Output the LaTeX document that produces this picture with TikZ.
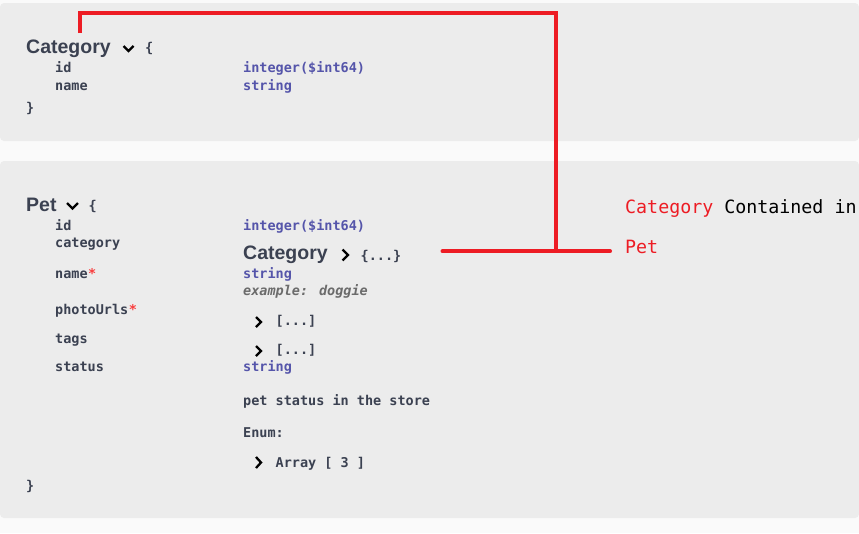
\documentclass[tikz,border=0pt]{standalone}
\usepackage{fontspec}
\setmainfont{Liberation Sans}
\setmonofont{DejaVu Sans Mono}
\newfontfamily\notefont{DejaVu Sans Mono}
\usepackage{xcolor}
\definecolor{canvasbg}{RGB}{250,250,250}
\definecolor{panelbg}{RGB}{236,236,236}
\definecolor{swgtext}{RGB}{59,65,81}
\definecolor{swgtype}{RGB}{85,85,170}
\definecolor{swgexample}{RGB}{107,107,107}
\definecolor{swgreq}{RGB}{249,62,62}
\definecolor{notered}{RGB}{237,28,36}
\usetikzlibrary{positioning,calc}
\tikzset{
  mtitle/.style={anchor=base west,inner sep=0pt,text=swgtext,
    font=\fontsize{19.5}{21}\selectfont\bfseries},
  prop/.style={anchor=base west,inner sep=0pt,text=swgtext,
    font=\fontsize{13.5}{15}\selectfont\ttfamily\bfseries},
  ptype/.style={prop,text=swgtype},
  pexample/.style={prop,text=swgexample,
    font=\fontsize{13.5}{15}\selectfont\ttfamily\bfseries\itshape},
  preq/.style={prop,text=swgreq},
  chev/.style={line width=2.3pt,draw=black,line join=miter},
  note/.style={anchor=base west,inner sep=0pt,text=black,
    font=\fontsize{18.3}{20}\selectfont\notefont},
  redln/.style={line width=4pt,draw=notered,line join=miter},
}
\begin{document}
\begin{tikzpicture}[x=1pt,y=-1pt]
  \useasboundingbox (0,0) rectangle (859,533);
  \fill[canvasbg] (0,0) rectangle (859,533);
  \fill[panelbg,rounded corners=4pt] (0,3) rectangle (859,141);
  \fill[panelbg,rounded corners=4pt] (0,161) rectangle (859,518);

  % Category model
  \node (cattitle) [mtitle] at (26,53.3) {Category};
  \draw[chev] (123.5,46) -- (128.5,51) -- (133.5,46);
  \node (catopen) [prop] at (145,52.3) {\{};
  \node (catid) [prop] at (55,72.5) {id};
  \node (catidt) [ptype] at (243,72.5) {integer(\$int64)};
  \node (catname) [prop] at (55,90.5) {name};
  \node (catnamet) [ptype] at (243,90.5) {string};
  \node (catclose) [prop] at (26,112) {\}};

  % Pet model
  \node (pettitle) [mtitle] at (26,211) {Pet};
  \draw[chev] (67,203) -- (72.5,208.5) -- (78,203);
  \node (petopen) [prop] at (88.5,210) {\{};
  \node (petid) [prop] at (55,230) {id};
  \node (petidt) [ptype] at (243,230) {integer(\$int64)};
  \node (petcat) [prop] at (55,247.5) {category};
  \node (petcatt) [mtitle] at (243,259) {Category};
  \draw[chev] (342.5,249.5) -- (348,255) -- (342.5,260.5);
  \node (petcatref) [prop] at (360.5,260) {\{...\}};
  \node (petname) [prop] at (55,278.3) {name};
  \node (petnamereq) [preq,right=0pt of petname.base east,anchor=base west] {*};
  \node (petnamet) [ptype] at (243,278.3) {string};
  \node (petnameex) [pexample] at (243,295.7) {example: doggie};
  \node (petphoto) [prop] at (55,314) {photoUrls};
  \node (petphotoreq) [preq,right=0pt of petphoto.base east,anchor=base west] {*};
  \draw[chev] (256,317) -- (261,322) -- (256,327);
  \node (photoref) [prop] at (275.5,325) {[...]};
  \node (pettags) [prop] at (55,343.3) {tags};
  \draw[chev] (256,346) -- (261,351) -- (256,356);
  \node (tagsref) [prop] at (275.5,354) {[...]};
  \node (petstatus) [prop] at (55,371.7) {status};
  \node (statust) [ptype] at (243,371.7) {string};
  \node (statusdesc) [prop] at (243,405) {pet status in the store};
  \node (statusenum) [prop] at (243,437.7) {Enum:};
  \draw[chev] (256,457) -- (261,462.5) -- (256,468);
  \node (enumref) [prop] at (275.5,467.3) {Array [ 3 ]};
  \node (petclose) [prop] at (26,490) {\}};

  % annotation
  \node (notecat) [note] at (625,213.3) {\textcolor{notered}{Category} Contained in};
  \node (notepet) [note,text=notered] at (625,253.3) {Pet};

  \coordinate (catmark) at (80.3,33);
  \coordinate (turn) at (555.5,12.5);
  \coordinate (refend) at (442.5,251.3);
  \coordinate (noteend) at (610,251.3);
  \draw[redln] (catmark) |- (turn) -- (turn |- noteend);
  \draw[redln,line cap=round] (refend) -- (noteend);
\end{tikzpicture}
\end{document}
